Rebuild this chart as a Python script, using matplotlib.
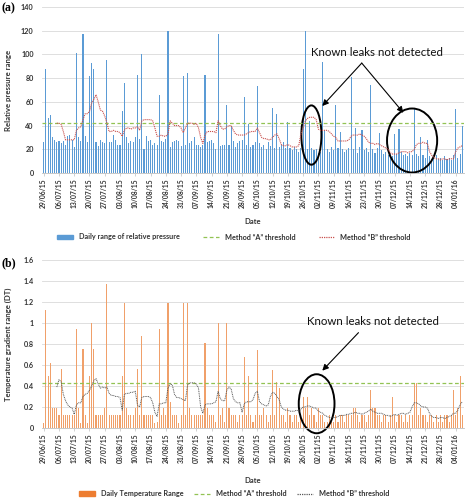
import numpy as np
import matplotlib
matplotlib.use("Agg")
import matplotlib.pyplot as plt
from matplotlib.patches import Ellipse, Patch
from matplotlib.lines import Line2D

plt.rcParams['font.family'] = ['Lato', 'DejaVu Sans']

# ---- data (one value per day, starting 29/06/15) ----
pressure_range = [
    26, 88, 46, 49, 30, 28, 26,
    27, 25, 27, 24, 31, 32, 28,
    22, 101, 30, 27, 117, 31, 26,
    82, 93, 88, 26, 23, 28, 26,
    25, 95, 26, 26, 32, 28, 24,
    24, 52, 76, 30, 25, 27, 26,
    30, 83, 29, 100, 20, 31, 27,
    28, 24, 25, 24, 66, 27, 26,
    29, 120, 22, 26, 27, 28, 27,
    23, 82, 24, 84, 25, 27, 30,
    24, 24, 22, 24, 83, 26, 27,
    28, 25, 20, 117, 23, 24, 24,
    57, 24, 40, 27, 22, 25, 27,
    28, 64, 24, 41, 22, 24, 26,
    73, 25, 22, 24, 20, 26, 23,
    55, 21, 50, 22, 24, 26, 21,
    43, 21, 19, 22, 20, 18, 21,
    88, 120, 20, 44, 21, 19, 20,
    17, 18, 94, 36, 20, 18, 22,
    19, 57, 21, 35, 20, 18, 19,
    21, 81, 20, 38, 17, 22, 36,
    19, 21, 18, 74, 20, 17, 21,
    34, 19, 16, 18, 15, 17, 14,
    33, 16, 37, 18, 15, 16, 14,
    17, 15, 55, 16, 14, 30, 15,
    13, 28, 14, 12, 13, 15, 12,
    13, 11, 14, 12, 13, 11, 15,
    54, 13, 16, 40,
]

pressure_method_a = 42.5

pressure_method_b = [
    None, None, None, None, None, None, 42,
    42, 41, 35, 28, 28, 28, 28,
    28, 36, 38, 39, 45, 50, 50,
    52, 59, 62, 66, 60, 53, 52,
    48, 42, 35, 35, 36, 35, 35,
    34, 31, 36, 38, 38, 37, 38,
    38, 39, 36, 44, 45, 45, 45,
    45, 44, 38, 31, 31, 32, 31,
    31, 33, 44, 42, 40, 40, 40,
    38, 34, 38, 42, 42, 42, 41,
    42, 38, 30, 25, 32, 35, 35,
    35, 35, 34, 44, 40, 37, 37,
    39, 40, 40, 36, 33, 32, 32,
    32, 32, 33, 34, 35, 35, 35,
    38, 34, 30, 29, 29, 28, 28,
    30, 32, 33, 29, 24, 23, 23,
    24, 23, 22, 22, 22, 23, 33,
    38, 44, 46, 47, 47, 47, 45,
    37, 36, 36, 36, 36, 35, 33,
    31, 30, 27, 27, 27, 27, 27,
    28, 31, 32, 32, 32, 33, 32,
    31, 29, 26, 25, 25, 24, 25,
    24, 23, 22, 21, 20, 17, 16,
    16, 16, 17, 18, 18, 18, 17,
    18, 18, 20, 24, 25, 25, 26,
    25, 25, 18, 15, 13, 12, 12,
    11, 12, 12, 11, 12, 12, 12,
    18, 21, 22, 23,
]

temperature_range = [
    0.05, 1.12, 0.50, 0.62, 0.19, 0.19, 0.19,
    0.12, 0.56, 0.12, 0.12, 0.12, 0.12, 0.12,
    0.12, 0.94, 0.19, 0.05, 0.75, 0.12, 0.05,
    0.50, 1.00, 0.75, 0.12, 0.12, 0.12, 0.12,
    0.19, 1.37, 0.12, 0.12, 0.12, 0.12, 0.12,
    0.12, 0.50, 1.19, 0.19, 0.12, 0.12, 0.12,
    0.19, 0.56, 0.12, 0.88, 0.12, 0.12, 0.12,
    0.12, 0.12, 0.05, 0.06, 0.94, 0.12, 0.19,
    0.12, 1.19, 0.25, 0.12, 0.12, 0.12, 0.05,
    0.12, 1.19, 0.12, 1.19, 0.19, 0.12, 0.12,
    0.12, 0.12, 0.12, 0.12, 0.81, 0.19, 0.12,
    0.12, 0.12, 0.06, 1.00, 0.12, 0.19, 0.06,
    1.00, 0.19, 0.12, 0.12, 0.12, 0.06, 0.12,
    0.12, 0.68, 0.12, 0.50, 0.12, 0.06, 0.12,
    0.74, 0.12, 0.12, 0.19, 0.12, 0.06, 0.12,
    0.55, 0.12, 0.44, 0.38, 0.12, 0.12, 0.06,
    0.19, 0.12, 0.06, 0.12, 0.12, 0.06, 0.12,
    0.30, 0.19, 0.30, 0.12, 0.19, 0.12, 0.06,
    0.19, 0.12, 0.12, 0.06, 0.06, 0.12, 0.06,
    0.06, 0.12, 0.06, 0.12, 0.12, 0.06, 0.12,
    0.12, 0.12, 0.19, 0.19, 0.12, 0.06, 0.12,
    0.12, 0.06, 0.12, 0.36, 0.19, 0.19, 0.12,
    0.12, 0.06, 0.12, 0.12, 0.06, 0.12, 0.30,
    0.12, 0.06, 0.12, 0.12, 0.06, 0.12, 0.06,
    0.12, 0.12, 0.43, 0.43, 0.12, 0.19, 0.12,
    0.12, 0.06, 0.12, 0.12, 0.06, 0.12, 0.06,
    0.12, 0.06, 0.12, 0.12, 0.06, 0.12, 0.36,
    0.12, 0.19, 0.50, 0.12,
]

temperature_method_a = 0.425

temperature_method_b = [
    None, None, None, None, None, None, 0.39,
    0.46, 0.44, 0.32, 0.26, 0.22, 0.20, 0.19,
    0.13, 0.22, 0.24, 0.24, 0.30, 0.32, 0.33,
    0.36, 0.40, 0.45, 0.47, 0.42, 0.38, 0.39,
    0.38, 0.39, 0.33, 0.31, 0.31, 0.30, 0.30,
    0.29, 0.17, 0.32, 0.33, 0.33, 0.34, 0.34,
    0.35, 0.22, 0.20, 0.29, 0.30, 0.30, 0.30,
    0.29, 0.24, 0.15, 0.11, 0.23, 0.23, 0.24,
    0.24, 0.38, 0.42, 0.41, 0.32, 0.29, 0.29,
    0.28, 0.27, 0.26, 0.41, 0.43, 0.43, 0.43,
    0.42, 0.38, 0.20, 0.14, 0.22, 0.23, 0.23,
    0.23, 0.24, 0.25, 0.35, 0.28, 0.26, 0.26,
    0.36, 0.39, 0.37, 0.28, 0.25, 0.24, 0.24,
    0.15, 0.23, 0.25, 0.25, 0.25, 0.27, 0.33,
    0.35, 0.25, 0.23, 0.22, 0.21, 0.22, 0.30,
    0.34, 0.33, 0.30, 0.27, 0.20, 0.18, 0.17,
    0.17, 0.16, 0.16, 0.16, 0.17, 0.16, 0.18,
    0.20, 0.20, 0.21, 0.21, 0.20, 0.19, 0.19,
    0.16, 0.15, 0.14, 0.12, 0.11, 0.10, 0.10,
    0.10, 0.10, 0.11, 0.12, 0.12, 0.12, 0.13,
    0.13, 0.14, 0.14, 0.15, 0.14, 0.14, 0.13,
    0.14, 0.15, 0.16, 0.18, 0.16, 0.15, 0.14,
    0.14, 0.14, 0.13, 0.12, 0.12, 0.11, 0.12,
    0.13, 0.12, 0.13, 0.14, 0.14, 0.13, 0.14,
    0.15, 0.20, 0.24, 0.24, 0.23, 0.21, 0.20,
    0.20, 0.19, 0.14, 0.11, 0.10, 0.10, 0.09,
    0.10, 0.10, 0.09, 0.10, 0.11, 0.12, 0.14,
    0.14, 0.17, 0.22, 0.25,
]

date_labels = [
    "29/06/15", "06/07/15", "13/07/15", "20/07/15", "27/07/15", "03/08/15",
    "10/08/15", "17/08/15", "24/08/15", "31/08/15", "07/09/15", "14/09/15",
    "21/09/15", "28/09/15", "05/10/15", "12/10/15", "19/10/15", "26/10/15",
    "02/11/15", "09/11/15", "16/11/15", "23/11/15", "30/11/15", "07/12/15",
    "14/12/15", "21/12/15", "28/12/15", "04/01/16",
]

days = np.arange(len(pressure_range))
tick_pos = np.arange(len(date_labels)) * 7

TXT = '#333333'
GRID = '#D9D9D9'
GREEN = '#92C353'


def style_axis(ax, ymax, yticks, yticklabels):
	ax.set_xlim(-0.8, len(days) - 0.2)
	ax.set_ylim(0, ymax)
	ax.set_yticks(yticks)
	ax.set_yticklabels(yticklabels, fontsize=5.2, fontweight='bold', color=TXT)
	ax.set_xticks(tick_pos)
	ax.set_xticklabels(date_labels, rotation=90, fontsize=4.9, fontweight='bold', color=TXT)
	ax.tick_params(axis='y', length=0, pad=6)
	ax.tick_params(axis='x', length=2.5, width=0.5, color='#BFBFBF', pad=1.5)
	ax.grid(axis='y', color=GRID, lw=0.6)
	ax.set_axisbelow(True)
	for s in ['top', 'right', 'left']:
		ax.spines[s].set_visible(False)
	ax.spines['bottom'].set_color('#BFBFBF')
	ax.spines['bottom'].set_linewidth(0.6)
	ax.set_xlabel('Date', fontsize=5.5, fontweight='bold', color=TXT)


def add_legend(handles, y, spacing):
	fig.legend(handles=handles, loc='center', bbox_to_anchor=(0.5, y), ncol=3, frameon=False,
		prop={'size': 5.2, 'weight': 'bold'}, labelcolor=TXT, handlelength=2.2,
		handleheight=0.6, handletextpad=0.8, columnspacing=spacing)


fig = plt.figure(figsize=(4.68, 5.0), dpi=100)
arrow = dict(arrowstyle='-|>', color='black', lw=0.8, mutation_scale=9, shrinkA=0, shrinkB=0)

# ==== (a) pressure
ax1 = fig.add_axes([0.0897, 0.654, 0.9017, 0.332])
ax1.bar(days, pressure_range, width=0.5, color='#5B9BD5', lw=0)
ax1.axhline(pressure_method_a, color=GREEN, lw=0.9, ls=(0, (3, 2)))
pb = np.array([np.nan if v is None else v for v in pressure_method_b], dtype=float)
ax1.plot(days, pb, color='#C9504D', lw=0.8, ls=(0, (1, 0.8)))
style_axis(ax1, 140, range(0, 141, 20), [str(v) for v in range(0, 141, 20)])
ax1.set_ylabel('Relative pressure range', fontsize=5.6, fontweight='bold', color=TXT)
ax1.yaxis.set_label_coords(-0.072, 0.5)
ax1.xaxis.set_label_coords(0.5, -0.272)

ax1.add_patch(Ellipse((122.8, 32), 9.2, 50, fill=False, ec='black', lw=1.4, clip_on=False))
ax1.add_patch(Ellipse((169, 27.4), 23, 54, fill=False, ec='black', lw=1.4, clip_on=False))
ax1.text(153, 101.4, 'Known leaks not detected', ha='center', va='center', fontsize=8.3, color='#111111')
ax1.annotate('', xy=(127.8, 56.5), xytext=(145.9, 92.7), arrowprops=arrow)
ax1.annotate('', xy=(165, 50.8), xytext=(145.9, 92.7), arrowprops=arrow)

add_legend([
	Patch(color='#5B9BD5', label='Daily range of relative pressure'),
	Line2D([], [], color=GREEN, lw=0.9, ls=(0, (3, 2)), label='Method \u201cA\u201d threshold'),
	Line2D([], [], color='#C9504D', lw=0.9, ls=(0, (1, 0.8)), label='Method \u201cB\u201d threshold'),
], 0.526, 3.2)

# ==== (b) temperature
ax2 = fig.add_axes([0.0897, 0.144, 0.9017, 0.336])
ax2.bar(days, temperature_range, width=0.5, color='#F0A06A', lw=0)
ax2.axhline(temperature_method_a, color=GREEN, lw=0.9, ls=(0, (3, 2)))
tb = np.array([np.nan if v is None else v for v in temperature_method_b], dtype=float)
ax2.plot(days, tb, color='#595959', lw=0.7, ls=(0, (1, 0.8)))
tlabels = ['0', '0.2', '0.4', '0.6', '0.8', '1', '1.2', '1.4', '1.6']
style_axis(ax2, 1.6, np.arange(0, 1.61, 0.2), tlabels)
ax2.set_ylabel('Temperature gradient range (DT)', fontsize=5.6, fontweight='bold', color=TXT)
ax2.yaxis.set_label_coords(-0.072, 0.5)
ax2.xaxis.set_label_coords(0.5, -0.29)

ax2.add_patch(Ellipse((125.2, 0.231), 16.4, 0.562, fill=False, ec='black', lw=1.4, clip_on=False))
ax2.text(151, 1.01, 'Known leaks not detected', ha='center', va='center', fontsize=8.3, color='#111111')
ax2.annotate('', xy=(127.8, 0.546), xytext=(144.4, 0.908), arrowprops=arrow)

add_legend([
	Patch(color='#ED7D31', label='Daily Temperature Range'),
	Line2D([], [], color=GREEN, lw=0.9, ls=(0, (3, 2)), label='Method \u201cA\u201d threshold'),
	Line2D([], [], color='#595959', lw=0.9, ls=(0, (1, 0.8)), label='Method \u201cB\u201d threshold'),
], 0.013, 1.5)

fig.text(0.004, 0.984, '(a)', fontsize=8.5, fontweight='bold', family='Liberation Serif', va='center')
fig.text(0.004, 0.474, '(b)', fontsize=8.5, fontweight='bold', family='Liberation Serif', va='center')

fig.savefig('out.png', dpi=100)
